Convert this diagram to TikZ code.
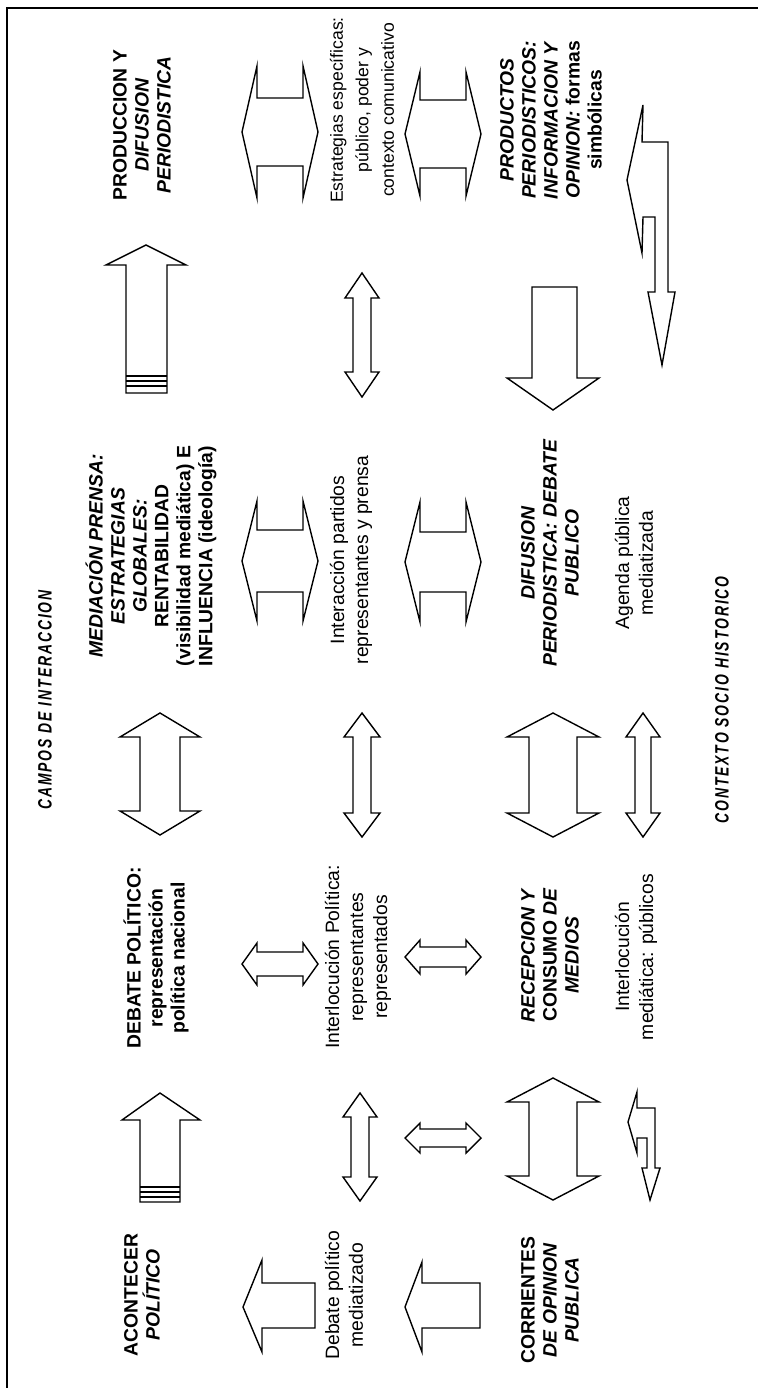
\documentclass[tikz,border=0pt]{standalone}
\usepackage{fontspec}
\setmainfont{Liberation Sans}
\newfontfamily\tagfont{Liberation Sans}[FakeStretch=0.72,LetterSpace=10]

\begin{document}
\begin{tikzpicture}[
  x=0.02cm, y=-0.02cm,
  head/.style={rotate=90,align=center,font=\fontsize{11}{12.5}\selectfont\bfseries},
  body/.style={rotate=90,align=center,font=\fontsize{11}{13.6}\selectfont},
  tag/.style={rotate=90,font=\tagfont\fontsize{11}{13}\selectfont\bfseries\itshape},
  blockarr/.style={draw=black,line width=0.8pt,line join=miter},
  frame/.style={draw=black,line width=0.6pt},
  pics/dblarr/.style args={#1/#2/#3/#4}{code={
    \draw[blockarr] (-#1,0) -- ({-#1+#4},#3) -- ({-#1+#4},#2) -- ({#1-#4},#2)
      -- ({#1-#4},#3) -- (#1,0) -- ({#1-#4},-#3) -- ({#1-#4},-#2)
      -- ({-#1+#4},-#2) -- ({-#1+#4},-#3) -- cycle;}}
]
  \useasboundingbox (0,0) rectangle (758,1388);
  \draw[frame] (7,1388) -- (7,8) -- (758,8);

  % titles of the fields
  \node[tag] (campos) at (45,700) {CAMPOS DE INTERACCION};
  \node[tag] (contexto) at (722,700) {CONTEXTO SOCIO HISTORICO};

  % first column
  \node[head] (prod) at (142,125) {PRODUCCION Y\\\textit{DIFUSION}\\\textit{PERIODISTICA}};
  \node[head] (medi) at (151,556) {\textit{MEDIACIÓN PRENSA:}\\\textit{ESTRATEGIAS}\\\textit{GLOBALES:}\\RENTABILIDAD\\(visibilidad mediática) E\\INFLUENCIA (ideología)};
  \node[head] (deb) at (156,958) {DEBATE POLÍTICO:\\representación\\política nacional};
  \node[head] (acon) at (142,1295) {ACONTECER\\\textit{POLÍTICO}};

  % second column
  \node[body,font=\fontsize{10}{14.5}\selectfont] (estr) at (362,110) {Estrategias específicas:\\público, poder y\\contexto comunicativo};
  \node[body] (inter) at (351,560) {Interacción partidos\\representantes y prensa};
  \node[body] (interpol) at (358,957) {Interlocución Política:\\representantes\\representados};
  \node[body] (debmed) at (344,1295) {Debate político\\mediatizado};

  % third column
  \node[head] (prods) at (551,120) {\textit{PRODUCTOS}\\\textit{PERIODISTICOS:}\\\textit{INFORMACION Y}\\\textit{OPINION:} formas\\simbólicas};
  \node[head] (difus) at (550,553) {\textit{DIFUSION}\\\textit{PERIODISTICA: DEBATE}\\\textit{PUBLICO}};
  \node[head] (recep) at (550,955) {\textit{RECEPCION Y}\\CONSUMO \textit{DE}\\\textit{MEDIOS}};
  \node[head] (corr) at (550,1300) {CORRIENTES\\\textit{DE OPINION}\\\textit{PUBLICA}};

  % fourth column
  \node[body] (agenda) at (634,563) {Agenda pública\\mediatizada};
  \node[body] (intmed) at (636,957) {Interlocución\\mediática: públicos};

  % double arrows between the columns
  \pic (dbl1) at (280,132) {dblarr=38/34/66/15};
  \pic (dbl2) at (443,134) {dblarr=38/34/62/15};
  \pic (dbl3) at (280,561) {dblarr=38/31/60/15};
  \pic (dbl4) at (443,562) {dblarr=38/30/60/15};
  \pic (dbl5) at (280,964) {dblarr=38/12/21/15};
  \pic (dbl6) at (443,957) {dblarr=38/10/17/15};
  \pic (dbl7) at (443,1138) {dblarr=38/9/15/15};

  % double arrows along the rows
  \pic[rotate=90] (dbl8) at (362,335) {dblarr=62/9/17/25};
  \pic[rotate=90] (dbl9) at (160,774) {dblarr=61/20/40/24};
  \pic[rotate=90] (dbl10) at (362,775) {dblarr=62/9/18/24};
  \pic[rotate=90] (dbl11) at (553,775) {dblarr=62/24/46/24};
  \pic[rotate=90] (dbl12) at (643,775) {dblarr=62/8/17/24};
  \pic[rotate=90] (dbl13) at (360,1147) {dblarr=54/9/17/24};
  \pic[rotate=90] (dbl14) at (553,1139) {dblarr=61/24/46/24};

  % single arrows with striped tails
  \draw[blockarr] (146,245) -- (186,265) -- (167,265) -- (167,393) -- (126,393)
    -- (126,265) -- (106,265) -- cycle;
  \foreach \s in {376,381,386} \draw[blockarr] (126,\s) -- (167,\s);
  \draw[blockarr] (160,1093) -- (200,1120) -- (180,1120) -- (180,1202) -- (140,1202)
    -- (140,1120) -- (122,1120) -- cycle;
  \foreach \s in {1187,1192,1197} \draw[blockarr] (140,\s) -- (180,\s);

  % down arrow
  \draw[blockarr] (532,287) -- (577,287) -- (577,378) -- (599,378) -- (553,410)
    -- (507,378) -- (532,378) -- cycle;

  % left arrows
  \draw[blockarr] (243,1307) -- (262,1260) -- (262,1283) -- (315,1283) -- (315,1328)
    -- (262,1328) -- (262,1352) -- cycle;
  \draw[blockarr] (405,1307) -- (422,1262) -- (422,1283) -- (480,1283) -- (480,1328)
    -- (422,1328) -- (422,1352) -- cycle;

  % bent arrows
  \draw[blockarr] (627,180) -- (643,105) -- (642,142) -- (668,142) -- (668,292)
    -- (675,292) -- (662,365) -- (648,292) -- (655,292) -- (655,217) -- (643,217)
    -- (642,253) -- cycle;
  \draw[blockarr] (628,1122) -- (637,1092) -- (637,1108) -- (655,1108) -- (655,1168)
    -- (660,1168) -- (650,1200) -- (642,1168) -- (647,1168) -- (647,1138)
    -- (637,1138) -- (637,1153) -- cycle;
\end{tikzpicture}
\end{document}
